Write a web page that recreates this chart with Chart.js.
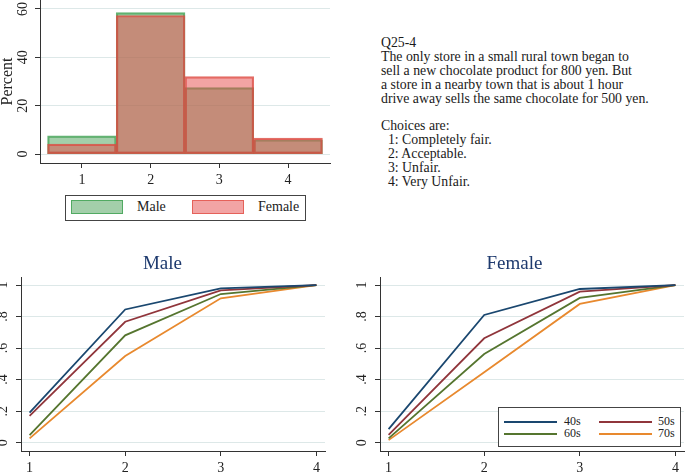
<!DOCTYPE html>
<html lang="en">
<head>
<meta charset="UTF-8" />
<title>Q25-4 fairness by sex and age</title>
<script src="https://cdn.jsdelivr.net/npm/chart.js"></script>
<style>
  html, body { margin: 0; padding: 0; background: #fff; }
  body {
    width: 685px; height: 472px; overflow: hidden; position: relative;
    font-family: "Liberation Serif", "DejaVu Serif", serif; color: #1a1a1a;
  }
  canvas { position: absolute; }
  #question {
    position: absolute; left: 381px; top: 36px;
    font-size: 13.8px; line-height: 13.9px; white-space: pre;
  }
  .legend { position: absolute; border: 1px solid #444; background: #fff; box-sizing: border-box; color: #222; }
  .legend span { position: absolute; }
  .sw { box-sizing: border-box; }
</style>
</head>
<body>

<canvas id="hist" style="left:0;top:0" width="340" height="192"></canvas>

<div class="legend" style="left:65px;top:195px;width:241px;height:26px;">
  <span class="sw" style="left:5px;top:4px;width:52px;height:14px;background:rgba(71,159,85,0.5);border:1.5px solid rgba(60,160,80,0.8);"></span>
  <span style="left:71px;top:3px;font-size:14px;">Male</span>
  <span class="sw" style="left:126px;top:4px;width:52px;height:14px;background:rgba(229,73,73,0.5);border:1.5px solid rgba(225,80,70,0.8);"></span>
  <span style="left:192px;top:3px;font-size:14px;">Female</span>
</div>

<div id="question">Q25-4
The only store in a small rural town began to
sell a new chocolate product for 800 yen. But
a store in a nearby town that is about 1 hour
drive away sells the same chocolate for 500 yen.

Choices are:
  1: Completely fair.
  2: Acceptable.
  3: Unfair.
  4: Very Unfair.</div>

<canvas id="male" style="left:0;top:240px" width="346" height="240"></canvas>
<canvas id="female" style="left:345px;top:240px" width="374" height="240"></canvas>

<div class="legend" style="left:498px;top:407px;width:183px;height:40px;">
  <span style="left:5px;top:13px;width:53px;height:2px;background:#1a476f;"></span>
  <span style="left:65px;top:6px;font-size:12px;">40s</span>
  <span style="left:100px;top:13px;width:53px;height:2px;background:#90353b;"></span>
  <span style="left:159px;top:6px;font-size:12px;">50s</span>
  <span style="left:5px;top:25px;width:53px;height:2px;background:#55752f;"></span>
  <span style="left:65px;top:18px;font-size:12px;">60s</span>
  <span style="left:100px;top:25px;width:53px;height:2px;background:#e8892e;"></span>
  <span style="left:159px;top:18px;font-size:12px;">70s</span>
</div>

<script>
  // answer categories
  const categories = [1, 2, 3, 4];

  // histogram, percent of respondents
  const malePct = [7.5, 58.5, 27.5, 5.9];
  const femalePct = [4.1, 57.3, 32.0, 6.6];
  const pctTicks = [0, 20, 40, 60];
  const pctTickLabels = ['0', '20', '40', '60'];

  // cumulative shares by age group
  const male40s = [0.19, 0.845, 0.979, 1];
  const male50s = [0.17, 0.767, 0.966, 1];
  const male60s = [0.048, 0.681, 0.943, 1];
  const male70s = [0.027, 0.55, 0.916, 1];
  const female40s = [0.086, 0.81, 0.975, 1];
  const female50s = [0.05, 0.662, 0.958, 1];
  const female60s = [0.027, 0.562, 0.918, 1];
  const female70s = [0.016, 0.446, 0.88, 1];
  const ageLabels = ['40s', '50s', '60s', '70s'];
  const ageColors = ['#1a476f', '#90353b', '#55752f', '#e8892e'];
  const cdfTicks = [0, 0.2, 0.4, 0.6, 0.8, 1];
  const cdfTickLabels = ['0', '.2', '.4', '.6', '.8', '1'];

  const serif = 'Liberation Serif';
  const gridColor = '#dde8e8';
  const axisColor = '#333';

  // y tick labels rotated like Stata draws them
  const rotatedYLabels = {
    id: 'rotatedYLabels',
    afterDraw(chart, args, opts) {
      const y = chart.scales.y;
      const ctx = chart.ctx;
      ctx.save();
      ctx.font = opts.size + 'px "' + serif + '"';
      ctx.fillStyle = '#222';
      ctx.textAlign = 'center';
      ctx.textBaseline = 'alphabetic';
      opts.values.forEach((v, i) => {
        ctx.save();
        ctx.translate(y.right - opts.gap, y.getPixelForValue(v));
        ctx.rotate(-Math.PI / 2);
        ctx.fillText(opts.labels[i], 0, 0);
        ctx.restore();
      });
      ctx.restore();
    }
  };

  function setTicks(values) {
    return scale => { scale.ticks = values.map(v => ({ value: v })); };
  }

  new Chart(document.getElementById('hist'), {
    type: 'bar',
    data: {
      datasets: [
        {
          label: 'Male',
          data: categories.map((c, i) => ({ x: c, y: malePct[i] })),
          backgroundColor: 'rgba(71,159,85,0.5)',
          borderColor: 'rgba(60,160,80,0.8)',
          borderWidth: 1.5,
          borderSkipped: false,
          order: 2
        },
        {
          label: 'Female',
          data: categories.map((c, i) => ({ x: c, y: femalePct[i] })),
          backgroundColor: 'rgba(229,73,73,0.5)',
          borderColor: 'rgba(220,75,65,0.8)',
          borderWidth: 1.5,
          borderSkipped: false,
          order: 1
        }
      ]
    },
    options: {
      responsive: false,
      animation: false,
      layout: { padding: { left: 0, right: 10, top: 0, bottom: 0 } },
      datasets: { bar: { grouped: false, barPercentage: 1, categoryPercentage: 1 } },
      plugins: {
        legend: { display: false },
        tooltip: { enabled: false },
        rotatedYLabels: { values: pctTicks, labels: pctTickLabels, gap: 13, size: 14 }
      },
      scales: {
        x: {
          type: 'linear', min: 0.39, max: 4.61, offset: false,
          afterBuildTicks: setTicks(categories),
          afterFit: s => { s.height = 29; },
          grid: { display: true, drawOnChartArea: false, offset: false, tickLength: 5, tickColor: axisColor },
          border: { color: axisColor },
          ticks: { font: { family: serif, size: 14 }, color: '#222', padding: 4 }
        },
        y: {
          min: -3.7, max: 63.7,
          afterBuildTicks: setTicks(pctTicks),
          afterFit: s => { s.width = 40; },
          grid: { color: gridColor, tickLength: 5, tickColor: axisColor },
          border: { color: axisColor },
          ticks: { display: false },
          title: { display: true, text: 'Percent', font: { family: serif, size: 16, lineHeight: 1 }, color: '#222', padding: 0 }
        }
      }
    },
    plugins: [rotatedYLabels]
  });

  function cdfChart(id, title, series, axisWidth, padRight) {
    new Chart(document.getElementById(id), {
      type: 'line',
      data: {
        datasets: series.map((vals, k) => ({
          label: ageLabels[k],
          data: categories.map((c, i) => ({ x: c, y: vals[i] })),
          borderColor: ageColors[k],
          borderWidth: 1.8,
          pointRadius: 0,
          tension: 0,
          fill: false
        }))
      },
      options: {
        responsive: false,
        animation: false,
        layout: { padding: { left: 0, right: padRight, top: 0, bottom: 0 } },
        plugins: {
          legend: { display: false },
          tooltip: { enabled: false },
          title: {
            display: true, text: title, color: '#1e3a6e',
            font: { family: serif, size: 19, weight: 'normal', lineHeight: 1 },
            padding: { top: 15, bottom: 3 }
          },
          rotatedYLabels: { values: cdfTicks, labels: cdfTickLabels, gap: 14, size: 14 }
        },
        scales: {
          x: {
            type: 'linear', min: 0.91, max: 4.09,
            afterBuildTicks: setTicks(categories),
            afterFit: s => { s.height = 29; },
            grid: { display: true, drawOnChartArea: false, tickLength: 5, tickColor: axisColor },
            border: { color: axisColor },
            ticks: { font: { family: serif, size: 14 }, color: '#222', padding: 4 }
          },
          y: {
            min: -0.053, max: 1.051,
            afterBuildTicks: setTicks(cdfTicks),
            afterFit: s => { s.width = axisWidth; },
            grid: { color: gridColor, tickLength: 5, tickColor: axisColor },
            border: { color: axisColor },
            ticks: { display: false }
          }
        }
      },
      plugins: [rotatedYLabels]
    });
  }

  cdfChart('male', 'Male', [male40s, male50s, male60s, male70s], 21, 21);
  cdfChart('female', 'Female', [female40s, female50s, female60s, female70s], 35, 35);
</script>
</body>
</html>
